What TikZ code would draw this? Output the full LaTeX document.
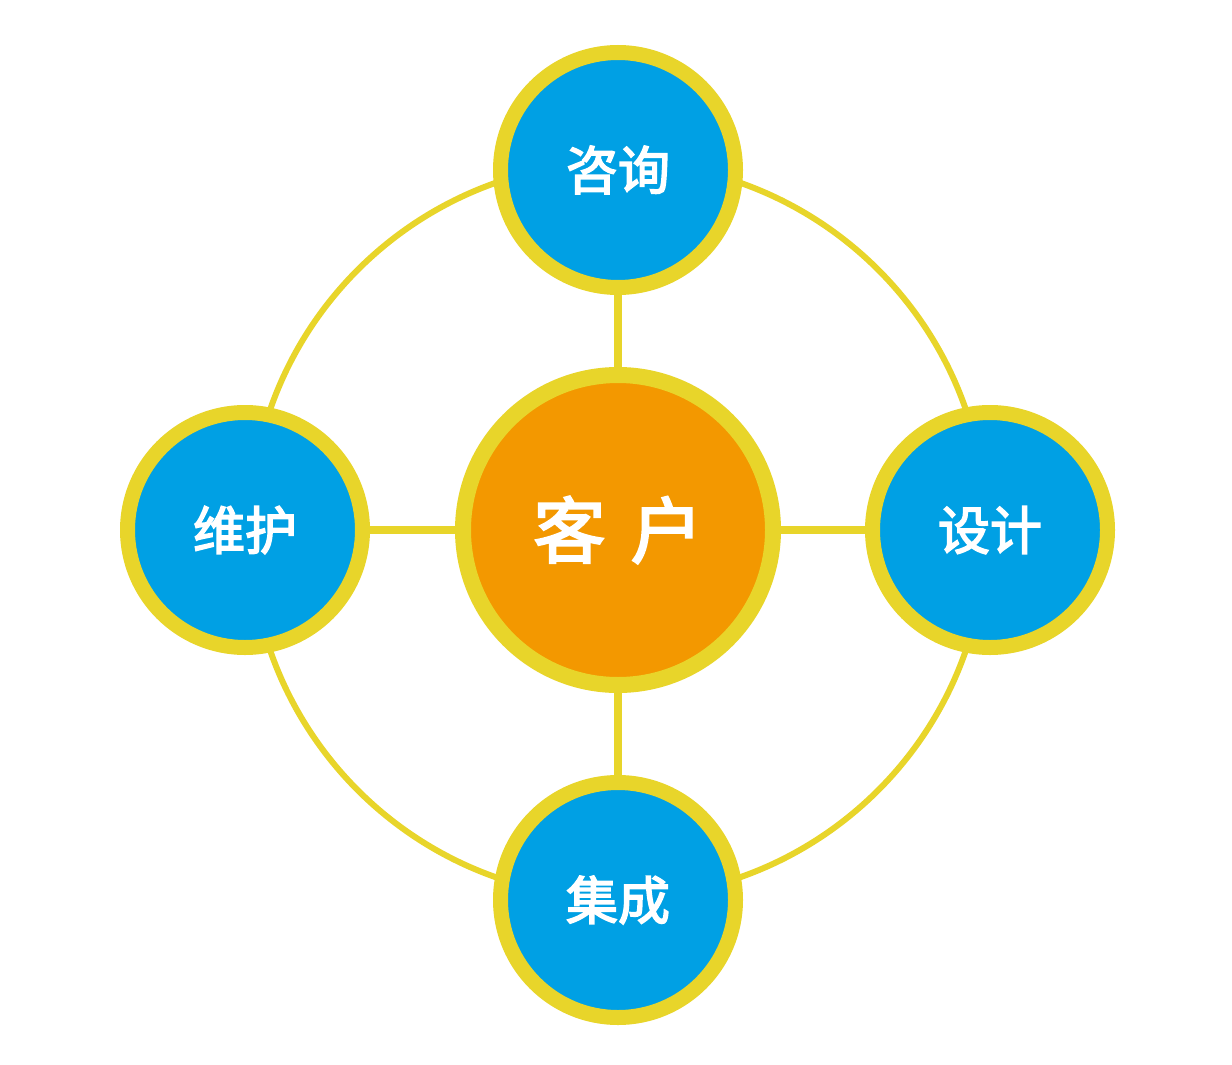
\documentclass[tikz,border=0pt]{standalone}
\usepackage{fontspec}
\newfontfamily\cjk[FakeBold=3]{Noto Sans CJK SC}
\definecolor{ylw}{HTML}{E8D52A}
\definecolor{blu}{HTML}{00A0E4}
\definecolor{org}{HTML}{F39800}
\begin{document}
\begin{tikzpicture}[x=1pt,y=-1pt,
  sat/.style={circle,draw=ylw,line width=15pt,fill=blu,minimum size=235pt,inner sep=0pt,text=white,font=\cjk\fontsize{52}{58}\selectfont},
  ctr/.style={circle,draw=ylw,line width=16pt,fill=org,minimum size=310pt,inner sep=0pt,text=white,font=\cjk\fontsize{72}{80}\selectfont},
  link/.style={ylw,line width=8pt}]
\useasboundingbox (0,0) rectangle (1232,1065);
\fill[white] (0,0) rectangle (1232,1065);
\coordinate (o) at (618,530);
\draw[ylw,line width=6pt] (o) circle (368);
\node[ctr] (c) at (618,530) {客\hspace{0.35em}户};
\node[sat] (t) at (618,170) {咨询};
\node[sat] (b) at (618,900) {集成};
\node[sat] (l) at (245,530) {维护};
\node[sat] (r) at (990,530) {设计};
\draw[link] (c) -- (t); \draw[link] (c) -- (b);
\draw[link] (c) -- (l); \draw[link] (c) -- (r);
\end{tikzpicture}
\end{document}
